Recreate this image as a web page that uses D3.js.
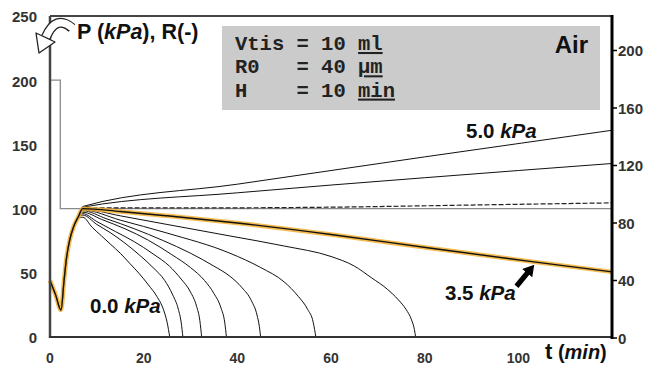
<!DOCTYPE html>
<html><head><meta charset="utf-8">
<script src="https://cdn.jsdelivr.net/npm/d3@7"></script>
<style>
html,body{margin:0;padding:0;background:#fff;}
svg{display:block;}
text{font-family:"Liberation Sans",Arial,sans-serif;font-weight:bold;}
text.mono{font-family:"Liberation Mono","Courier New",monospace;}
</style></head>
<body>
<svg id="chart" width="654" height="367"></svg>
<script>
// ---- data ----
const xTicks = [0, 20, 40, 60, 80, 100];
const leftTicks = [0, 50, 100, 150, 200, 250];
const rightTicks = [0, 40, 80, 120, 160, 200];

// pressure P (kPa) on left axis
const pressureLine = [[0, 200], [2.2, 200], [2.2, 100], [120, 100]];

// common start of the radius curves (t min, R on right axis)
const trunk = [[0, 40], [1.2, 30], [2.35, 19.5], [3, 40], [3.5, 55], [4.2, 68], [5, 77], [6, 84]];

const c00 = [[7,84],[9,77],[11,71],[13,65],[15,59],[17,52],[19,45],[21,37],[22.8,29],[24.2,20],[25,11],[25.6,0]];
const c05 = [[7,85.5],[10,79],[13,73],[16,66],[19,58],[22,49],[24.5,40],[26.2,30],[27.4,20],[28,11],[28.4,0]];
const c10 = [[7,86.5],[10,81],[14,74],[18,67],[22,58.5],[25.5,50],[28,41],[30,32],[31.3,22],[32,12],[32.4,0]];
const c15 = [[7,87.5],[11,82.5],[16,76],[21,68],[26,58],[30,49],[33,40],[35,31],[36.5,21],[37.3,11],[37.7,0]];
const c20 = [[7,88.5],[12,83],[18,76],[24,68],[30,59],[35,50],[38.4,43],[41,35],[43,26],[44.2,16],[44.7,8],[45,0]];
const c25 = [[7,89],[15,82],[25,73],[38.4,59],[45,49],[50,39],[53,29],[55,20],[56.2,11],[56.8,0]];
const c30 = [[7,89.5],[15,85],[25,79],[38.4,71],[50,64],[60,56.7],[65,50],[68.6,42],[72,34],[74.4,26.5],[76,20],[77.2,12.6],[77.8,6],[78.1,0]];
const c35 = [[7,90],[15,88],[25,85],[40,80],[60,72],[81,62.6],[102.5,53.3],[120,46]];
const c40 = [[7,90.5],[30,90.5],[60,91],[90,92.5],[120,94]];
const c45 = [[7,91],[40,101],[80,111.5],[120,121.4]];
const c50 = [[7,91.5],[40,107],[80,126],[120,144.5]];

const blackCurves = [c00, c05, c10, c15, c20, c25, c30, c45, c50];

// ---- layout ----
const svg = d3.select("#chart");
const x = d3.scaleLinear().domain([0, 120]).range([50, 612]);
const yL = d3.scaleLinear().domain([0, 250]).range([337, 16]);
const yR = d3.scaleLinear().domain([0, 224]).range([338, 16]);

// info box
svg.append("rect").attr("x", 222).attr("y", 26).attr("width", 378).attr("height", 84).attr("fill", "#cbcbcb");

const lineR = d3.line().x(d => x(d[0])).y(d => yR(d[1])).curve(d3.curveMonotoneX);
const lineP = d3.line().x(d => x(d[0])).y(d => yL(d[1]));

// pressure line
svg.append("path").attr("d", lineP(pressureLine)).attr("fill", "none").attr("stroke", "#8a8a8a").attr("stroke-width", 1.3);

// radius curves
blackCurves.forEach(c => {
  svg.append("path").attr("d", lineR(trunk.concat(c))).attr("fill", "none").attr("stroke", "#111").attr("stroke-width", 1);
});
svg.append("path").attr("d", lineR(trunk.concat(c40))).attr("fill", "none").attr("stroke", "#222").attr("stroke-width", 1.2).attr("stroke-dasharray", "5,2");
// highlighted 3.5 kPa
svg.append("path").attr("d", lineR(trunk.concat(c35))).attr("fill", "none").attr("stroke", "#f2b033").attr("stroke-width", 4.5).attr("stroke-opacity", 0.85);
svg.append("path").attr("d", lineR(trunk.concat(c35))).attr("fill", "none").attr("stroke", "#111").attr("stroke-width", 1.4);

// frame / axes
svg.append("line").attr("x1", 50).attr("x2", 612).attr("y1", 16).attr("y2", 16).attr("stroke", "#444").attr("stroke-width", 2);
svg.append("line").attr("x1", 50).attr("x2", 50).attr("y1", 16).attr("y2", 338).attr("stroke", "#444").attr("stroke-width", 2.5);
svg.append("line").attr("x1", 49).attr("x2", 612).attr("y1", 337).attr("y2", 337).attr("stroke", "#333").attr("stroke-width", 2);
svg.append("line").attr("x1", 612).attr("x2", 612).attr("y1", 15).attr("y2", 339).attr("stroke", "#000").attr("stroke-width", 3);

// left tick labels
svg.selectAll(".lt").data(leftTicks).enter().append("text")
  .attr("x", 37).attr("y", d => yL(d)).attr("dy", "0.42em").attr("text-anchor", "end")
  .attr("font-size", 15).attr("fill", "#333").text(d => d);

// bottom tick labels
svg.selectAll(".bt").data(xTicks).enter().append("text")
  .attr("x", d => x(d)).attr("y", 363).attr("text-anchor", "middle")
  .attr("font-size", 14).attr("fill", "#333").text(d => d);

// right axis ticks + labels
const rAxis = svg.append("g");
rAxis.selectAll("line").data(rightTicks).enter().append("line")
  .attr("x1", 612).attr("x2", 617).attr("y1", d => yR(d)).attr("y2", d => yR(d)).attr("stroke", "#000").attr("stroke-width", 1.5);
rAxis.selectAll("text").data(rightTicks).enter().append("text")
  .attr("x", 618).attr("y", d => yR(d)).attr("dy", "0.38em")
  .attr("font-size", 15).attr("fill", "#333").text(d => d);

// titles
const pt = svg.append("text").attr("x", 77).attr("y", 39).attr("font-size", 21.5).attr("fill", "#111");
pt.append("tspan").text("P (");
pt.append("tspan").attr("font-style", "italic").text("kPa");
pt.append("tspan").text("), R(-)");

const tt = svg.append("text").attr("x", 545).attr("y", 359).attr("font-size", 20).attr("fill", "#111");
tt.append("tspan").attr("font-size", 22).text("t");
tt.append("tspan").text(" (");
tt.append("tspan").attr("font-style", "italic").text("min");
tt.append("tspan").text(")");

function kpaLabel(xp, yp, num) {
  const t = svg.append("text").attr("x", xp).attr("y", yp).attr("font-size", 20.5).attr("fill", "#111");
  t.append("tspan").text(num + " ");
  t.append("tspan").attr("font-style", "italic").text("kPa");
}
kpaLabel(466, 138, "5.0");
kpaLabel(90, 313, "0.0");
kpaLabel(445, 300, "3.5");

// box text
const boxLines = [["Vtis = 10 ", "ml"], ["R0   = 40 ", "µm"], ["H    = 10 ", "min"]];
boxLines.forEach((l, i) => {
  const t = svg.append("text").attr("class", "mono").attr("x", 235).attr("y", 50 + i * 23.3)
    .attr("font-size", 20.5).attr("fill", "#222").attr("xml:space", "preserve").style("white-space", "pre");
  t.append("tspan").text(l[0]);
  t.append("tspan").attr("text-decoration", "underline").text(l[1]);
});
svg.append("text").attr("x", 588).attr("y", 53).attr("text-anchor", "end").attr("font-size", 24).attr("fill", "#111").text("Air");

// arrow pointing at the 3.5 kPa curve
(function () {
  const tip = [x(103.4), yR(51)], tail = [x(99.6), yR(36)];
  const dx = tip[0] - tail[0], dy = tip[1] - tail[1], L = Math.hypot(dx, dy);
  const ux = dx / L, uy = dy / L, px = -uy, py = ux;
  const hl = 11, hw = 6.5, sw = 2.6;
  const b = [tip[0] - ux * hl, tip[1] - uy * hl];
  const pts = [
    [tail[0] + px * sw, tail[1] + py * sw], [b[0] + px * sw, b[1] + py * sw], [b[0] + px * hw, b[1] + py * hw],
    tip, [b[0] - px * hw, b[1] - py * hw], [b[0] - px * sw, b[1] - py * sw], [tail[0] - px * sw, tail[1] - py * sw]
  ];
  svg.append("path").attr("d", "M" + pts.map(p => p.join(",")).join("L") + "Z").attr("fill", "#000");
})();

// hollow curved arrow at top-left
svg.append("path").attr("d", "M72,28 Q56,14 46,37").attr("fill", "none").attr("stroke", "#222").attr("stroke-width", 10);
svg.append("path").attr("d", "M72.5,28 Q56,14 46,37").attr("fill", "none").attr("stroke", "#fff").attr("stroke-width", 7.5);
svg.append("path").attr("d", "M55,42 L36,33 L39,53 Z").attr("fill", "#fff").attr("stroke", "#222").attr("stroke-width", 1.3).attr("stroke-linejoin", "round");
</script>
</body></html>
